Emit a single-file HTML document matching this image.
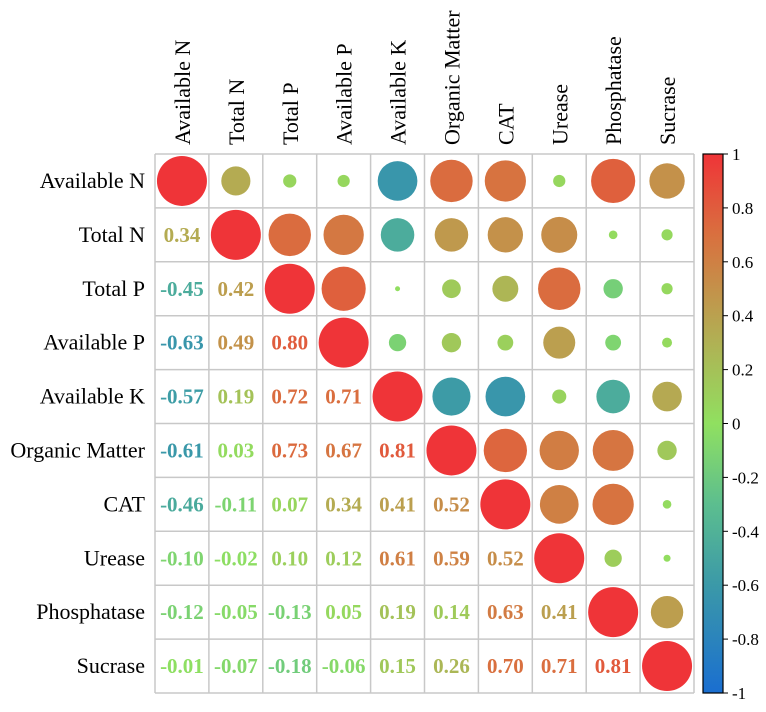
<!DOCTYPE html>
<html><head><meta charset="utf-8"><style>
body{margin:0;background:#fff;width:766px;height:707px;overflow:hidden}
svg{font-family:"Liberation Serif",serif}
</style></head><body>
<svg id="chart" width="766" height="707" xmlns="http://www.w3.org/2000/svg"></svg>
<script>
const labels=["Available N","Total N","Total P","Available P","Available K","Organic Matter","CAT","Urease","Phosphatase","Sucrase"];
const lower=[
[],
[0.34],
[-0.45,0.42],
[-0.63,0.49,0.80],
[-0.57,0.19,0.72,0.71],
[-0.61,0.03,0.73,0.67,0.81],
[-0.46,-0.11,0.07,0.34,0.41,0.52],
[-0.10,-0.02,0.10,0.12,0.61,0.59,0.52],
[-0.12,-0.05,-0.13,0.05,0.19,0.14,0.63,0.41],
[-0.01,-0.07,-0.18,-0.06,0.15,0.26,0.70,0.71,0.81]];
const upper=[
[0.34,0.07,0.06,-0.63,0.72,0.68,0.06,0.78,0.50],
[0.72,0.65,-0.45,0.45,0.50,0.52,0.03,0.05],
[0.78,0.01,0.14,0.27,0.72,-0.15,0.05],
[-0.12,0.15,0.10,0.41,-0.10,0.04],
[-0.58,-0.63,0.08,-0.45,0.35],
[0.75,0.62,0.67,0.15],
[0.60,0.68,0.03],
[0.12,0.02],
[0.42]];
const cbTicks=[1,0.8,0.6,0.4,0.2,0,-0.2,-0.4,-0.6,-0.8,-1];
const NS="http://www.w3.org/2000/svg";
const svg=document.getElementById('chart');
const X0=155,Y0=154,C=53.9,N=10,R=25;
const stops=[[-1,[26,110,208]],[-0.6,[59,153,168]],[-0.3,[92,190,143]],[0,[144,224,96]],[0.35,[181,169,82]],[0.7,[217,112,63]],[1,[239,52,56]]];
function color(v){for(let k=0;k<stops.length-1;k++){const a=stops[k],b=stops[k+1];if(v<=b[0]){const t=(v-a[0])/(b[0]-a[0]);const c=a[1].map((x,i)=>Math.round(x+(b[1][i]-x)*t));return `rgb(${c})`;}}return 'rgb(239,52,56)';}
function el(t,a){const e=document.createElementNS(NS,t);for(const k in a)e.setAttribute(k,a[k]);svg.appendChild(e);return e;}
const cx=j=>X0+C*(j+0.5), cy=i=>Y0+C*(i+0.5);
for(let i=0;i<=N;i++){
 const g1=el('line',{x1:X0,x2:X0+C*N,y1:Y0+C*i,y2:Y0+C*i,stroke:'#c8c8c8','stroke-width':1.5});
 
 const g2=el('line',{y1:Y0,y2:Y0+C*N,x1:X0+C*i,x2:X0+C*i,stroke:'#c8c8c8','stroke-width':1.5});
 
}
labels.forEach((l,i)=>{
 const t=el('text',{x:145,y:cy(i)+7,'text-anchor':'end','font-size':22});t.textContent=l;
 
 const c=el('text',{x:0,y:0,'font-size':22,transform:`translate(${cx(i)+8},145) rotate(-90)`});c.textContent=l;
 
});
for(let i=0;i<N;i++){
 const d=el('circle',{cx:cx(i),cy:cy(i),r:R,fill:color(1)});
 
 for(let j=0;j<i;j++){const v=lower[i][j];
  const t=el('text',{x:cx(j),y:cy(i)+7,'text-anchor':'middle','font-size':21,'font-weight':'bold',fill:color(v)});
  t.textContent=v.toFixed(2);}
 for(let j=i+1;j<N;j++){const v=upper[i][j-i-1];
  const c=el('circle',{cx:cx(j),cy:cy(i),r:R*Math.sqrt(Math.abs(v)),fill:color(v)});
  }
}
const defs=el('defs',{});const lg=document.createElementNS(NS,'linearGradient');
lg.setAttribute('id','cg');lg.setAttribute('x1','0');lg.setAttribute('y1','1');lg.setAttribute('x2','0');lg.setAttribute('y2','0');
for(let k=0;k<=20;k++){const v=-1+k/10;const s=document.createElementNS(NS,'stop');s.setAttribute('offset',k/20);s.setAttribute('stop-color',color(v));lg.appendChild(s);}
defs.appendChild(lg);
const CB0=154,CB1=693,cbY=v=>CB1-(v+1)/2*(CB1-CB0);
const bar=el('rect',{x:703,y:CB0,width:20,height:CB1-CB0,fill:'url(#cg)',stroke:'#000','stroke-width':1.2});

cbTicks.forEach(v=>{const y=cbY(v);
 const tk=el('line',{x1:723,x2:728,y1:y,y2:y,stroke:'#000','stroke-width':1});
 
 const t=el('text',{x:732,y:y+6,'font-size':17});t.textContent=(v===0||v===1||v===-1)?String(v):v.toFixed(1);
 
});
</script>
</body></html>
